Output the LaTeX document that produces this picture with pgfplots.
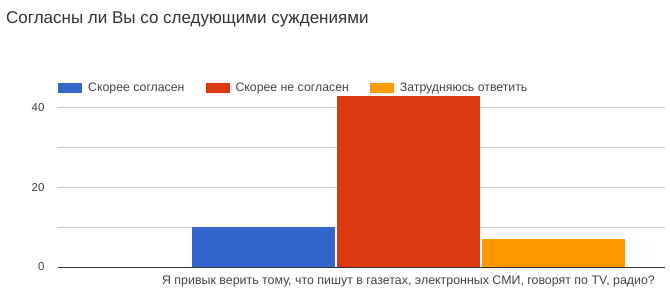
\documentclass[border=0pt]{standalone}
\usepackage{pgfplots}
\pgfplotsset{compat=1.18}
\usepackage{fontspec}
\setmainfont{Liberation Sans}
\definecolor{gblue}{HTML}{3366CC}
\definecolor{gred}{HTML}{DC3912}
\definecolor{gorange}{HTML}{FF9900}
\definecolor{ggrid}{HTML}{CCCCCC}
\definecolor{gtext}{HTML}{444444}
\definecolor{gtitle}{HTML}{333333}
\newcommand\catlabel{Я привык верить тому, что пишут в газетах, электронных СМИ, говорят по TV, радио?}
\begin{document}
\begin{tikzpicture}
\useasboundingbox (0,0) rectangle (670pt,293pt);
\node[anchor=base west, inner sep=0pt, text=gtitle, font=\fontsize{17pt}{19pt}\selectfont] at (6pt,270pt) {Согласны ли Вы со следующими суждениями};
\begin{axis}[
  at={(58pt,26pt)}, anchor=south west,
  scale only axis, width=607pt, height=179pt,
  xmin=0, xmax=1, ymin=0, ymax=45,
  axis line style={draw=none},
  ybar=2pt, bar width=0.2356,
  xtick={0.5774},
  xticklabels={\catlabel},
  ytick={0,10,20,30,40},
  yticklabels={0,,20,,40},
  major tick length=0pt,
  ymajorgrids, grid style={ggrid, line width=0.8pt},
  extra y ticks={0}, extra y tick labels={},
  extra y tick style={grid style={gtitle, line width=1pt}},
  yticklabel style={text=gtext, font=\fontsize{11.5pt}{13pt}\selectfont, xshift=-10pt},
  xticklabel style={text=gtext, font=\fontsize{12.4pt}{14pt}\selectfont, yshift=-5pt},
  /pgf/number format/assume math mode=true,
  legend columns=3,
  legend style={at={(rel axis cs:0,1)}, anchor=west, draw=none, fill=none,
    font=\fontsize{12.3pt}{14pt}\selectfont, text=gtext, inner sep=0pt,
    /tikz/every odd column/.append style={column sep=4pt},
    /tikz/every even column/.append style={column sep=19pt}},
  legend image code/.code={\fill[#1, draw=none] (0pt,-5pt) rectangle (24pt,5pt);},
  clip=false,
]
\addplot[fill=gblue, draw=none] coordinates {(0.5774,10)};
\addplot[fill=gred, draw=none] coordinates {(0.5774,43)};
\addplot[fill=gorange, draw=none] coordinates {(0.5774,7)};
\legend{Скорее согласен, Скорее не согласен, Затрудняюсь ответить}
\end{axis}
\end{tikzpicture}
\end{document}
